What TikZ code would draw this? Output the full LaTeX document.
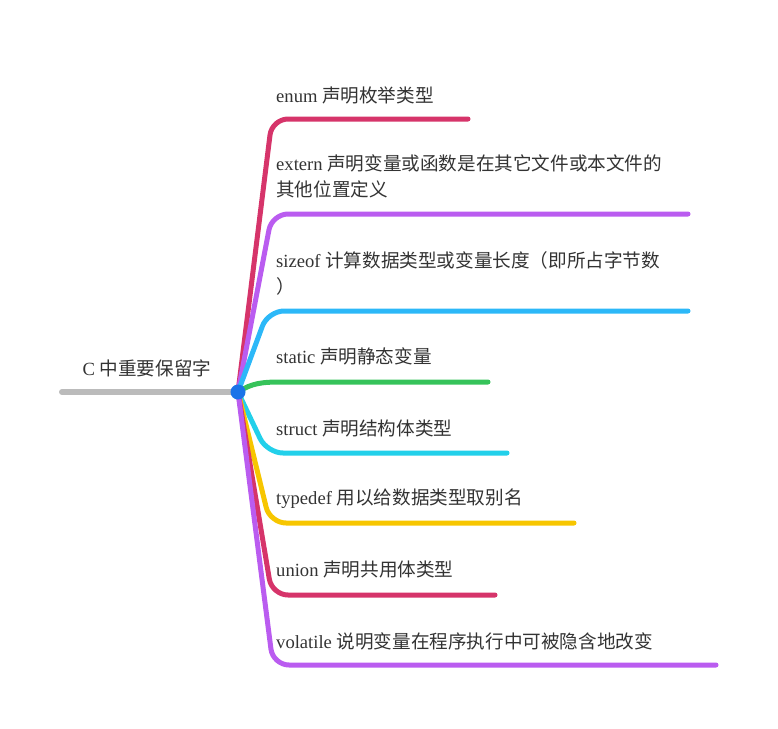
\documentclass[tikz,border=0pt]{standalone}
\usepackage{fontspec}
\setmainfont{Liberation Serif}
\newfontfamily\cjk{Noto Sans CJK SC}
\definecolor{cpink}{RGB}{214,52,106}
\definecolor{cpurple}{RGB}{186,92,240}
\definecolor{cblue}{RGB}{44,184,248}
\definecolor{cgreen}{RGB}{54,195,90}
\definecolor{ccyan}{RGB}{34,208,234}
\definecolor{cyellow}{RGB}{247,198,0}
\definecolor{cgray}{RGB}{187,187,187}
\definecolor{cdot}{RGB}{27,115,232}
\definecolor{ctext}{RGB}{51,51,51}
\begin{document}
\begin{tikzpicture}[x=1pt,y=-1pt,
  branch/.style={line width=5pt,line cap=round,rounded corners=16pt},
  label/.style={anchor=west,inner sep=0pt,text=ctext,font=\fontsize{18.6}{26}\selectfont,align=left},
  rootlabel/.style={inner sep=0pt,text=ctext,font=\fontsize{18.6}{26}\selectfont}]
\useasboundingbox (0,0) rectangle (778,728);
\coordinate (root) at (238,392);
\coordinate (start) at (62,392);
% branch ends
\coordinate (e1) at (468,119);
\coordinate (e2) at (688,214);
\coordinate (e3) at (688,311);
\coordinate (e4) at (488,382);
\coordinate (e5) at (507,453);
\coordinate (e6) at (574,523);
\coordinate (e7) at (495,595);
\coordinate (e8) at (716,665);
\draw[branch,cpink] (root) -- (272,119) -- (e1);
\draw[branch,cpurple] (root) -- (272,214) -- (e2);
\draw[branch,cblue] (root) -- (268,311) -- (e3);
\draw[line width=5pt,line cap=round,cgreen] (root) .. controls (252,383) and (262,382) .. (282,382) -- (e4);
\draw[branch,ccyan] (root) -- (267,453) -- (e5);
\draw[branch,cyellow] (root) -- (270,523) -- (e6);
\draw[branch,cpink] (root) -- (272,595) -- (e7);
\draw[branch,cpurple] (root) -- (273,665) -- (e8);
\draw[line width=6pt,line cap=round,cgray] (start) -- (root);
\fill[cdot] (root) circle (7.5);
\node[rootlabel] (rt) at (147,368) {C {\cjk 中重要保留字}};
\node[label] (t1) at (276,95) {enum {\cjk 声明枚举类型}};
\node[label] (t2) at (276,176) {extern {\cjk 声明变量或函数是在其它文件或本文件的}\\{\cjk 其他位置定义}};
\node[label] (t3) at (276,273) {sizeof {\cjk 计算数据类型或变量长度（即所占字节数}\\{\cjk ）}};
\node[label] (t4) at (276,356) {static {\cjk 声明静态变量}};
\node[label] (t5) at (276,428) {struct {\cjk 声明结构体类型}};
\node[label] (t6) at (276,499) {typedef {\cjk 用以给数据类型取别名}};
\node[label] (t7) at (276,569) {union {\cjk 声明共用体类型}};
\node[label] (t8) at (276,641) {volatile {\cjk 说明变量在程序执行中可被隐含地改变}};
\end{tikzpicture}
\end{document}
